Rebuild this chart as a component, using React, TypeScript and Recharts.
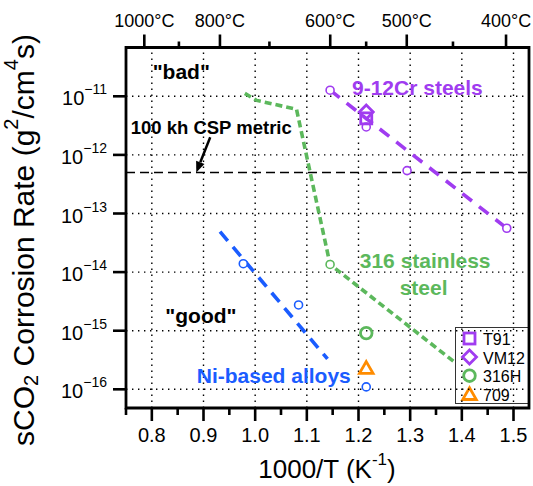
import React from "react";
import {
  ComposedChart,
  Line,
  Scatter,
  XAxis,
  YAxis,
  ReferenceLine,
  ReferenceArea,
  ReferenceDot,
} from "recharts";

const FONT = "'Liberation Sans', Arial, Helvetica, sans-serif";

const PURPLE = "#a03cf0";
const GREEN = "#5cb85c";
const BLUE = "#1a5cff";
const ORANGE = "#ff8c00";

// axes
const X_MIN = 0.75;
const X_MAX = 1.53;
const Y_MIN = 4.8e-17;
const Y_MAX = 6.8e-11;
const xMajor = [0.8, 0.9, 1.0, 1.1, 1.2, 1.3, 1.4, 1.5];
const xMinor = [0.75, 0.85, 0.95, 1.05, 1.15, 1.25, 1.35, 1.45];
const yDecades = [1e-16, 1e-15, 1e-14, 1e-13, 1e-12, 1e-11];
const tempMajorC = [1000, 800, 600, 500, 400];
const tempMinorC = [900, 700, 550, 450];

// 9-12Cr steels
const crX = [1.145, 1.215, 1.294, 1.487];
const crY = [1.27e-11, 3.0e-12, 5.4e-13, 5.6e-14];
const crFitX = [1.145, 1.487];
const crFitY = [1.27e-11, 5.6e-14];

// 316 stainless steel
const ssLineX = [0.98, 1.003, 1.08, 1.145, 1.385];
const ssLineY = [1.12e-11, 8.5e-12, 6.0e-12, 1.35e-14, 2.95e-16];
const ssX = [1.145];
const ssY = [1.35e-14];

// Ni-based alloys
const niFitX = [0.932, 1.14];
const niFitY = [4.9e-14, 3.3e-16];
const niX = [0.977, 1.084, 1.215];
const niY = [1.39e-14, 2.75e-15, 1.1e-16];

// 550 C tests
const testNames = ["T91", "VM12", "316H", "709"];
const testX = [1.215, 1.215, 1.215, 1.215];
const testY = [4.2e-12, 5.4e-12, 9.1e-16, 2.3e-16];
const testColors = [PURPLE, PURPLE, GREEN, ORANGE];
const testShapes = ["square", "diamond", "circle", "triangle"];

const cspMetric = 5e-13;

const toPts = (xs: number[], ys: number[]) => xs.map((x, i) => ({ x, y: ys[i] }));

function Marker({ kind, cx, cy, color }: { kind: string; cx: number; cy: number; color: string }) {
  if (kind === "square")
    return <rect x={cx - 5.5} y={cy - 5.5} width={11} height={11} fill="none" stroke={color} strokeWidth={2.8} />;
  if (kind === "diamond")
    return (
      <polygon
        points={`${cx},${cy - 7} ${cx + 7},${cy} ${cx},${cy + 7} ${cx - 7},${cy}`}
        fill="none"
        stroke={color}
        strokeWidth={2.8}
      />
    );
  if (kind === "circle") return <circle cx={cx} cy={cy} r={5.8} fill="none" stroke={color} strokeWidth={2.8} />;
  if (kind === "triangle")
    return (
      <polygon
        points={`${cx},${cy - 6.5} ${cx + 6.8},${cy + 5.2} ${cx - 6.8},${cy + 5.2}`}
        fill="none"
        stroke={color}
        strokeWidth={2.8}
      />
    );
  return <circle cx={cx} cy={cy} r={4} fill="#fff" stroke={color} strokeWidth={1.6} />;
}

const near = (a: number, list: number[]) => list.some((v) => Math.abs(v - a) < 1e-6);

const BottomTick = (p: any) => {
  const { x, y, payload } = p;
  const major = near(payload.value, xMajor);
  return (
    <g>
      <line x1={x} x2={x} y1={y} y2={y + (major ? 13 : 7)} stroke="#000" strokeWidth={2.6} />
      {major && (
        <text x={x} y={y + 27} textAnchor="middle" dominantBaseline="central" fontSize={20} fontFamily={FONT} fill="#000">
          {payload.value.toFixed(1)}
        </text>
      )}
    </g>
  );
};

const TopTick = (p: any) => {
  const { x, y, payload } = p;
  const c = Math.round(1000 / payload.value - 273.15);
  const major = tempMajorC.includes(c);
  return (
    <g>
      <line x1={x} x2={x} y1={y} y2={y - (major ? 13 : 6)} stroke="#000" strokeWidth={2.6} />
      {major && (
        <text x={x} y={y - 27} textAnchor="middle" dominantBaseline="central" fontSize={18} fontFamily={FONT} fill="#000">
          {c}°C
        </text>
      )}
    </g>
  );
};

const LeftTick = (p: any) => {
  const { x, y, payload } = p;
  const e = Math.round(Math.log10(payload.value));
  return (
    <g>
      <line x1={x - 13} x2={x} y1={y} y2={y} stroke="#000" strokeWidth={2.6} />
      <text x={x - 19} y={y + 2} textAnchor="end" dominantBaseline="central" fontSize={20} fontFamily={FONT} fill="#000">
        10
        <tspan dy={-9} fontSize={14}>
          {"\u2212" + Math.abs(e)}
        </tspan>
      </text>
    </g>
  );
};

const Note = (text: string, color: string, size: number) => (p: any) => (
  <text
    x={p.cx}
    y={p.cy}
    textAnchor="middle"
    dominantBaseline="central"
    fontSize={size}
    fontWeight="bold"
    fontFamily={FONT}
    fill={color}
  >
    {text}
  </text>
);

const Arrow = (p: any) => {
  const { x1, y1, x2, y2 } = p;
  const a = Math.atan2(y2 - y1, x2 - x1);
  const L = 11;
  const W = 4.5;
  const bx = x2 - L * Math.cos(a);
  const by = y2 - L * Math.sin(a);
  const nx = -Math.sin(a) * W;
  const ny = Math.cos(a) * W;
  return (
    <g>
      <line x1={x1} y1={y1} x2={bx} y2={by} stroke="#000" strokeWidth={2.5} />
      <polygon points={`${x2},${y2} ${bx + nx},${by + ny} ${bx - nx},${by - ny}`} fill="#000" />
    </g>
  );
};

const topTicks = [...tempMajorC, ...tempMinorC].map((c) => 1000 / (c + 273.15)).sort((a, b) => a - b);
const bottomTicks = [...xMajor, ...xMinor].sort((a, b) => a - b);

export default function App() {
  return (
    <div style={{ position: "absolute", left: 0, top: 0, width: 533, height: 486, background: "#fff" }}>
      <ComposedChart width={533} height={486} margin={{ top: 7, right: 4, bottom: 18, left: 26 }}>
        <XAxis
          xAxisId="b"
          type="number"
          dataKey="x"
          domain={[X_MIN, X_MAX]}
          allowDataOverflow
          ticks={bottomTicks}
          interval={0}
          tickSize={0}
          tickMargin={0}
          axisLine={false}
          tickLine={false}
          tick={BottomTick}
          height={60}
        />
        <XAxis
          xAxisId="t"
          orientation="top"
          type="number"
          dataKey="x"
          domain={[X_MIN, X_MAX]}
          allowDataOverflow
          ticks={topTicks}
          interval={0}
          tickSize={0}
          tickMargin={0}
          axisLine={false}
          tickLine={false}
          tick={TopTick}
          height={40.5}
        />
        <YAxis
          type="number"
          dataKey="y"
          scale="log"
          domain={[Y_MIN, Y_MAX]}
          allowDataOverflow
          ticks={yDecades}
          interval={0}
          tickSize={0}
          tickMargin={0}
          axisLine={false}
          tickLine={false}
          tick={LeftTick}
          width={100}
        />

        {xMajor.map((v) => (
          <ReferenceLine key={"gx" + v} xAxisId="b" x={v} stroke="#000" strokeWidth={1.4} strokeDasharray="1.4 4.6" />
        ))}
        {yDecades.map((v) => (
          <ReferenceLine key={"gy" + v} xAxisId="b" y={v} stroke="#000" strokeWidth={1.4} strokeDasharray="1.4 4.6" />
        ))}
        <ReferenceLine xAxisId="b" y={cspMetric} stroke="#000" strokeWidth={1.6} strokeDasharray="9 5" />

        <Line
          xAxisId="b"
          data={toPts(crFitX, crFitY)}
          dataKey="y"
          stroke={PURPLE}
          strokeWidth={3.6}
          strokeDasharray="12 9"
          dot={false}
          isAnimationActive={false}
        />
        <Line
          xAxisId="b"
          data={toPts(ssLineX, ssLineY)}
          dataKey="y"
          stroke={GREEN}
          strokeWidth={3.6}
          strokeDasharray="7 4"
          dot={false}
          isAnimationActive={false}
        />
        <Line
          xAxisId="b"
          data={toPts(niFitX, niFitY)}
          dataKey="y"
          stroke={BLUE}
          strokeWidth={3.6}
          strokeDasharray="12 8"
          dot={false}
          isAnimationActive={false}
        />

        <Scatter
          xAxisId="b"
          data={toPts(crX, crY)}
          dataKey="y"
          isAnimationActive={false}
          shape={(p: any) => <Marker kind="small" cx={p.cx} cy={p.cy} color={PURPLE} />}
        />
        <Scatter
          xAxisId="b"
          data={toPts(ssX, ssY)}
          dataKey="y"
          isAnimationActive={false}
          shape={(p: any) => <Marker kind="small" cx={p.cx} cy={p.cy} color={GREEN} />}
        />
        <Scatter
          xAxisId="b"
          data={toPts(niX, niY)}
          dataKey="y"
          isAnimationActive={false}
          shape={(p: any) => <Marker kind="small" cx={p.cx} cy={p.cy} color={BLUE} />}
        />
        {testNames.map((n, i) => (
          <Scatter
            key={n}
            xAxisId="b"
            data={[{ x: testX[i], y: testY[i] }]}
            dataKey="y"
            isAnimationActive={false}
            shape={(p: any) => <Marker kind={testShapes[i]} cx={p.cx} cy={p.cy} color={testColors[i]} />}
          />
        ))}

        <ReferenceLine
          xAxisId="b"
          segment={[
            { x: 0.913, y: 2.0e-12 },
            { x: 0.886, y: 5.0e-13 },
          ]}
          shape={Arrow}
        />
        <ReferenceDot xAxisId="b" x={0.857} y={2.6e-11} r={0} shape={Note('"bad"', "#000", 21)} />
        <ReferenceDot xAxisId="b" x={0.915} y={2.9e-12} r={0} shape={Note("100 kh CSP metric", "#000", 18.5)} />
        <ReferenceDot xAxisId="b" x={1.314} y={1.44e-11} r={0} shape={Note("9-12Cr steels", PURPLE, 21)} />
        <ReferenceDot xAxisId="b" x={1.329} y={1.55e-14} r={0} shape={Note("316 stainless", GREEN, 21)} />
        <ReferenceDot xAxisId="b" x={1.326} y={5.5e-15} r={0} shape={Note("steel", GREEN, 21)} />
        <ReferenceDot xAxisId="b" x={0.895} y={1.8e-15} r={0} shape={Note('"good"', "#000", 21)} />
        <ReferenceDot xAxisId="b" x={1.036} y={1.7e-16} r={0} shape={Note("Ni-based alloys", BLUE, 21)} />

        <ReferenceArea
          xAxisId="b"
          x1={X_MIN}
          x2={X_MAX}
          y1={Y_MIN}
          y2={Y_MAX}
          fill="none"
          stroke="#000"
          strokeWidth={2.8}
          ifOverflow="visible"
        />

        {/* legend */}
        <g>
          <rect x={455.5} y={327.5} width={73.5} height={76} fill="#fff" stroke="#333" strokeWidth={1} />
          {testNames.map((n, i) => (
            <g key={"lg" + n}>
              <Marker kind={testShapes[i]} cx={469.5} cy={338.5 + i * 18.6} color={testColors[i]} />
              <text x={483} y={339.5 + i * 18.6} dominantBaseline="central" fontSize={16} fontFamily={FONT} fill="#000">
                {n}
              </text>
            </g>
          ))}
        </g>

        <text x={327} y={469} textAnchor="middle" dominantBaseline="central" fontSize={26} fontFamily={FONT} fill="#000">
          1000/T (K
          <tspan dy={-10} fontSize={17}>
            -1
          </tspan>
          <tspan dy={10}>)</tspan>
        </text>
        <text
          transform="translate(23, 240) rotate(-90)"
          textAnchor="middle"
          dominantBaseline="central"
          fontSize={30}
          fontFamily={FONT}
          fill="#000"
        >
          sCO
          <tspan dy={8} fontSize={20}>
            2
          </tspan>
          <tspan dy={-8}> Corrosion Rate (g</tspan>
          <tspan dy={-12} fontSize={20}>
            2
          </tspan>
          <tspan dy={12}>/cm</tspan>
          <tspan dy={-12} fontSize={20}>
            4
          </tspan>
          <tspan dy={12}>s)</tspan>
        </text>
      </ComposedChart>
    </div>
  );
}
